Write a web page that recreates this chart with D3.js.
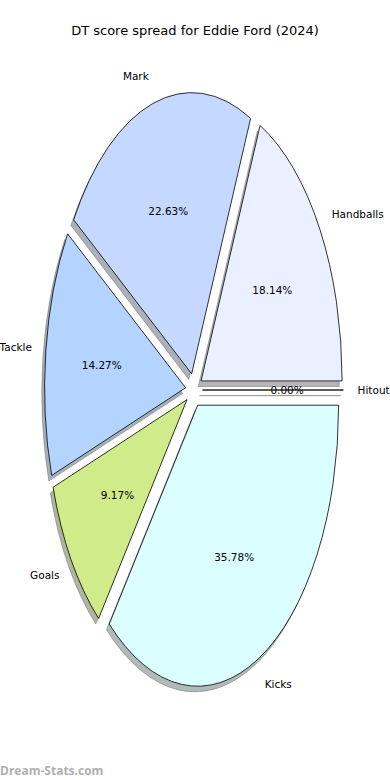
<!DOCTYPE html>
<html>
<head>
<meta charset="utf-8">
<script src="https://cdn.jsdelivr.net/npm/d3@7"></script>
<style>
  body { margin: 0; background: #fff; }
  svg { display: block; font-family: "DejaVu Sans", sans-serif; }
</style>
</head>
<body>
<script>
// data
var categories = ["Handballs", "Mark", "Tackle", "Goals", "Kicks", "Hitout"];
var values = [18.14, 22.63, 14.27, 9.17, 35.78, 0.0];
var colours = ["#eaf0ff", "#c5d8ff", "#b3d4ff", "#d0eb8a", "#dbffff", "#f5f5f5"];
var explode = [0.06, 0.06, 0.06, 0.06, 0.06, 0.06];

var w = 390, h = 780;
var cx = 194, cy = 390, rx = 141, ry = 281;

var svg = d3.select("body").append("svg")
    .attr("width", w)
    .attr("height", h);

// unit-circle coords -> pixels (ellipse because aspect is not equal)
var x = d3.scaleLinear().domain([-1, 1]).range([cx - rx, cx + rx]);
var y = d3.scaleLinear().domain([-1, 1]).range([cy + ry, cy - ry]);

// matplotlib: start at 3 o'clock, counter clockwise
var pie = d3.pie().sort(null)
    .startAngle(Math.PI / 2)
    .endAngle(Math.PI / 2 - 2 * Math.PI);
var arcs = pie(values);

var arc = d3.arc().innerRadius(0).outerRadius(1);

arcs.forEach(function (d, i) {
    var mid = (d.startAngle + d.endAngle) / 2;   // d3 angle, clockwise from top
    d.ux = Math.sin(mid);
    d.uy = Math.cos(mid);
    d.ex = explode[i];
});

function wedgeTransform(d, dx, dy) {
    var ox = x(d.ux * d.ex) + dx, oy = y(d.uy * d.ex) + dy;
    return "translate(" + ox + "," + oy + ") scale(" + rx + "," + ry + ")";
}

// shadows first (behind everything)
svg.append("g").selectAll("path.shadow")
    .data(arcs)
    .enter()
    .append("path")
    .attr("class", "shadow")
    .attr("transform", function (d) { return wedgeTransform(d, -0.02 * rx, 0.02 * ry); })
    .attr("d", arc)
    .attr("fill", function (d, i) { return d3.color(colours[i]).darker(2.2); })
    .attr("fill-opacity", 0.5)
    .attr("stroke", "#555")
    .attr("stroke-opacity", 0.5)
    .attr("stroke-width", 0.8)
    .attr("vector-effect", "non-scaling-stroke");

svg.append("g").selectAll("path.wedge")
    .data(arcs)
    .enter()
    .append("path")
    .attr("class", "wedge")
    .attr("transform", function (d) { return wedgeTransform(d, 0, 0); })
    .attr("d", arc)
    .attr("fill", function (d, i) { return colours[i]; })
    .attr("stroke", "#000")
    .attr("stroke-width", 0.8)
    .attr("vector-effect", "non-scaling-stroke");

// outer labels
svg.append("g").selectAll("text")
    .data(arcs)
    .enter()
    .append("text")
    .attr("x", function (d) { return x(d.ux * (d.ex + 1.1)); })
    .attr("y", function (d) { return y(d.uy * (d.ex + 1.1)); })
    .attr("dy", "0.35em")
    .attr("text-anchor", function (d) { return d.ux >= 0 ? "start" : "end"; })
    .attr("font-size", "10.5px")
    .attr("fill", "#000")
    .text(function (d, i) { return categories[i]; });

// percentage labels
svg.append("g").selectAll("text")
    .data(arcs)
    .enter()
    .append("text")
    .attr("x", function (d) { return x(d.ux * (d.ex + 0.6)); })
    .attr("y", function (d) { return y(d.uy * (d.ex + 0.6)); })
    .attr("dy", "0.35em")
    .attr("text-anchor", "middle")
    .attr("font-size", "10.5px")
    .attr("fill", "#000")
    .text(function (d) { return d.value.toFixed(2) + "%"; });

svg.append("text")
    .attr("x", w / 2)
    .attr("y", 30)
    .attr("dy", "0.35em")
    .attr("text-anchor", "middle")
    .attr("font-size", "13px")
    .text("DT score spread for Eddie Ford (2024)");

svg.append("text")
    .attr("x", 0)
    .attr("y", 771)
    .attr("dy", "0.35em")
    .attr("font-size", "12px")
    .attr("font-family", "'Open Sans', sans-serif")
    .attr("font-weight", "bold")
    .attr("fill", "#999")
    .attr("fill-opacity", 0.8)
    .text("Dream-Stats.com");
</script>
</body>
</html>
